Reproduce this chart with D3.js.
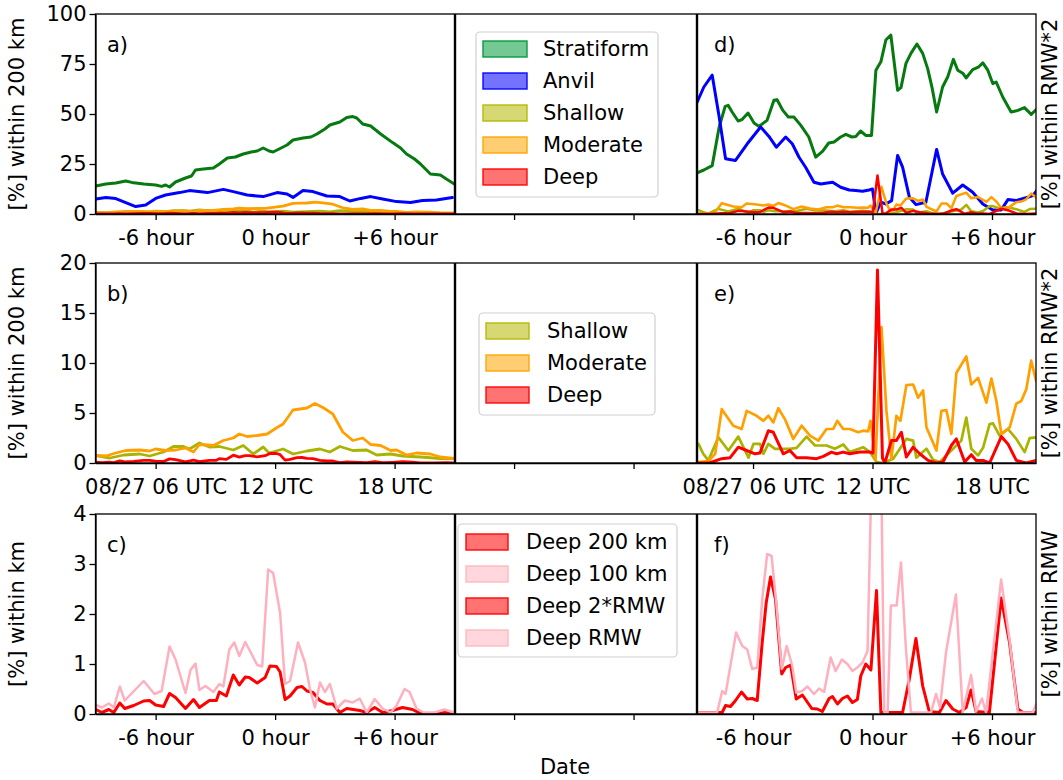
<!DOCTYPE html>
<html>
<head>
<meta charset="utf-8">
<script src="https://cdn.jsdelivr.net/npm/d3@7"></script>
<style>
  html, body { margin: 0; padding: 0; background: #fff; }
  svg { display: block; font-family: "DejaVu Sans", sans-serif; }
</style>
</head>
<body>
<svg id="chart" width="1063" height="780"></svg>
<script>
// ---------------- DATA ----------------
// x-axis tick positions (hours on one continuous axis; right panels are offset by 30 h)
const hourTicks = [-6, 0, 6, 12, 18, 24, 30, 36];
const hourLabels = ["-6 hour", "0 hour", "+6 hour", "", "", "-6 hour", "0 hour", "+6 hour"];
const utcLabels = ["08/27 06 UTC", "12 UTC", "18 UTC", "", "", "08/27 06 UTC", "12 UTC", "18 UTC"];
const yTicksTop = [0, 25, 50, 75, 100];
const yTicksMid = [0, 5, 10, 15, 20];
const yTicksBot = [0, 1, 2, 3, 4];
const rightOffset = 30;

// panel a/b/c : within 200 km / 100 km  ([hour, %])
const stratiform200 = [[-9,14],[-8.5,15],[-8,15.5],[-7.5,16.5],[-7.2,15.8],[-6.6,15],[-6,14.5],[-5.7,13.8],[-5.5,14.5],[-5.3,13.5],[-5,16],[-4.5,18],[-4.2,19],[-4,22],[-3.6,22.5],[-3.1,23],[-2.8,25],[-2.4,28],[-2,28.5],[-1.6,30],[-1.2,31],[-0.9,31.5],[-0.6,33],[-0.3,31.5],[-0.1,31],[0.3,33],[0.6,34.5],[0.9,37],[1.4,38],[1.8,38.5],[2.1,40],[2.5,42.5],[2.75,44.5],[3.25,46],[3.6,48.3],[3.9,48.7],[4.1,48],[4.4,45],[4.8,44],[5.3,40],[5.9,35.7],[6.3,33],[6.6,30],[7,27.5],[7.3,25],[7.8,20],[8.3,19.5],[8.6,17.5],[9,15]];
const anvil200 = [[-9,7.5],[-8.5,8.3],[-8,7.7],[-7.5,5.7],[-7,3.7],[-6.5,4.5],[-6,7.8],[-5.5,9.5],[-4.8,10.7],[-4.3,11.7],[-3.4,10.7],[-2.6,12.3],[-2.1,11.2],[-1.4,9.5],[-0.6,8.7],[0.1,10.7],[0.6,10],[0.9,8.3],[1.4,11.7],[1.9,11.2],[2.6,9],[3.25,8.7],[3.75,6.5],[4.3,7.8],[4.8,8.7],[5.4,7.5],[6.1,6.2],[6.8,5.8],[7.4,6.7],[8.1,7],[8.9,8.2]];
const shallow200 = [[-9,0.75],[-8.3,0.5],[-7.6,0.8],[-6.8,0.9],[-6.3,0.7],[-5.6,1.1],[-5.1,1.65],[-4.6,1.65],[-4.3,1.4],[-3.8,2],[-3.3,1.6],[-2.8,1.65],[-2.1,1.3],[-1.6,1.75],[-1.1,0.9],[-0.6,1.6],[-0.3,1],[0.4,1.4],[0.9,0.9],[1.6,1.2],[2.25,1.4],[2.75,1.1],[3.25,1.65],[3.9,1.25],[4.6,1.3],[5.1,0.8],[5.8,0.9],[6.4,0.7],[7.3,0.6],[8.3,0.45],[9,0.45]];
const moderate200 = [[-9,0.75],[-8.5,0.7],[-8,1],[-7.5,1.25],[-6.8,1.3],[-6.3,1.2],[-6,1.4],[-5.5,1.25],[-5,1.3],[-4.5,1.5],[-4.1,1.1],[-3.8,1.85],[-3.1,1.75],[-2.6,2.25],[-2.1,2.5],[-1.8,2.9],[-1.4,2.65],[-0.9,2.75],[-0.4,2.9],[0.1,3.55],[0.4,3.9],[0.9,5.3],[1.25,5.4],[1.6,5.5],[2,5.95],[2.4,5.55],[2.9,4.9],[3.4,3.1],[3.9,2.25],[4.4,2.5],[4.8,1.85],[5.3,1.75],[5.8,1.25],[6.1,1.3],[6.6,0.8],[7.1,1],[7.8,0.9],[8.3,0.6],[9,0.45]];
const deep200 = [[-9,0.09],[-8.7,0.03],[-8.35,0.09],[-8.1,0.03],[-7.8,0.22],[-7.55,0.11],[-7.1,0.17],[-6.6,0.26],[-6.3,0.27],[-6,0.18],[-5.6,0.15],[-5.3,0.41],[-5,0.33],[-4.5,0.11],[-4.1,0.29],[-3.8,0.13],[-3.3,0.27],[-2.95,0.27],[-2.8,0.44],[-2.45,0.36],[-2.1,0.78],[-1.8,0.58],[-1.5,0.74],[-1.3,0.73],[-0.9,0.62],[-0.5,0.73],[-0.26,0.96],[0.07,0.95],[0.25,0.84],[0.5,0.29],[0.75,0.36],[1.1,0.53],[1.35,0.55],[1.6,0.46],[1.9,0.43],[2.25,0.27],[2.6,0.2],[2.9,0.2],[3.25,0.03],[3.6,0.11],[4.25,0.07],[4.6,0.03],[5,0.13],[5.4,0.03],[5.9,0.07],[6.4,0.13],[6.9,0.09],[7.3,0.01],[8,0.01],[8.6,0.03],[9,0.01]];
const deep100 = [[-9,0.18],[-8.7,0.13],[-8.35,0.21],[-8.1,0.13],[-7.8,0.55],[-7.55,0.27],[-6.6,0.66],[-6.06,0.4],[-5.7,0.46],[-5.3,1.35],[-5,1.09],[-4.5,0.42],[-4.25,0.88],[-4,1.01],[-3.8,0.48],[-3.5,0.56],[-3.1,0.44],[-2.8,0.6],[-2.6,0.55],[-2.3,1.29],[-2.05,1.43],[-1.8,1.16],[-1.5,1.44],[-1.3,1.29],[-0.9,0.98],[-0.65,0.95],[-0.35,2.89],[-0.1,2.82],[0.25,2.02],[0.5,0.6],[0.75,0.66],[1.15,1.43],[1.5,1.03],[1.75,0.5],[2,0.13],[2.25,0.63],[2.5,0.44],[2.75,0.6],[3.1,0.11],[3.5,0.27],[3.9,0.23],[4.25,0.31],[4.6,0.03],[5,0.3],[5.4,0.11],[5.8,0.03],[6.1,0.17],[6.5,0.5],[6.75,0.44],[7.1,0.11],[7.45,0.03],[8,0.03],[8.5,0.09],[9,0.03]];

// panel d/e : within RMW*2 ([hour relative to 0 hour, %])
const stratiformRMW2 = [[-8.86,20.4],[-8.47,22],[-8.05,24.2],[-7.7,43.5],[-7.4,53.8],[-7.25,54.3],[-7.05,51],[-6.75,46.5],[-6.55,47.2],[-6.25,50.5],[-5.95,45.5],[-5.7,43.8],[-5.3,46.8],[-4.95,56.9],[-4.8,57.2],[-4.5,51.8],[-4.23,48.5],[-3.95,48.5],[-3.6,44.3],[-3.2,38.5],[-2.85,28.4],[-2.5,31.4],[-2.2,35.5],[-1.93,36],[-1.6,38.5],[-1.34,39.8],[-1.04,38.5],[-0.84,38.8],[-0.6,41.5],[-0.34,39.3],[-0.05,39.3],[0.17,71.9],[0.42,76.1],[0.67,87],[0.92,89.5],[1.26,61.9],[1.43,63.2],[1.68,75.3],[1.93,80.3],[2.23,85],[2.52,80.3],[2.77,72.7],[2.99,63.2],[3.22,51],[3.52,63.5],[3.78,68.6],[4.06,77.3],[4.28,71.9],[4.55,70.2],[4.7,68],[5.03,72.2],[5.34,73.6],[5.54,75.6],[5.79,71.9],[6.04,65.2],[6.21,66],[6.54,58.5],[6.96,51],[7.3,51.8],[7.63,53.2],[7.97,49.8],[8.27,52.7]];
const anvilRMW2 = [[-8.86,54.8],[-8.47,63.5],[-8.05,69.4],[-7.7,48.5],[-7.38,27.6],[-6.88,26.8],[-6.29,35.1],[-5.62,43.5],[-5.2,38.8],[-4.83,33.4],[-4.36,38.5],[-4.03,35.1],[-3.69,28.4],[-3.36,23.4],[-2.94,15.9],[-2.6,15],[-2.35,15.4],[-2,15.9],[-1.6,13.4],[-1.17,12],[-0.84,11.7],[-0.5,11.4],[-0.17,12],[0,12.5],[0.17,0.3],[0.42,5.9],[0.67,5],[0.96,6.7],[1.26,29.3],[1.51,23.4],[1.85,8.4],[2.18,4.7],[2.68,5.9],[3.22,32.3],[3.52,20],[4.03,10.4],[4.53,14.5],[5.03,10.9],[5.54,5],[6.04,2],[6.46,2],[6.8,7.2],[7.21,6.7],[7.8,8.4],[8.05,9.2],[8.27,12]];
const shallowRMW2 = [[-8.74,1.91],[-8.5,0.92],[-8.24,0.26],[-7.74,2.57],[-7.24,1.25],[-6.74,2.64],[-6.23,0.53],[-5.98,1.91],[-5.65,1.91],[-5.48,0.92],[-5.23,1.91],[-4.9,1.42],[-4.15,1.42],[-3.81,1.52],[-3.31,2.64],[-2.89,1.75],[-2.31,1.75],[-1.89,1.42],[-1.47,1.85],[-1.14,1.09],[-0.47,1.58],[-0.13,1.09],[0.2,0.1],[0.53,0],[1.04,0.43],[1.7,2.41],[2.04,2.24],[2.2,0.53],[2.71,1.42],[3.04,0.33],[3.38,0.1],[3.79,0.92],[4.46,2.24],[4.71,4.55],[4.96,1.42],[5.3,0.76],[5.55,1.52],[5.88,3.89],[6.05,3.96],[6.38,2.74],[6.8,3.4],[7.22,2.41],[7.64,1.09],[7.89,2.48],[8.22,2.57]];
const moderateRMW2 = [[-8.74,0.1],[-8.24,0.2],[-7.9,0.92],[-7.57,5.38],[-6.99,3.73],[-6.57,3.4],[-6.32,5.21],[-5.82,4.72],[-5.48,4.22],[-5.23,4.72],[-4.98,4.06],[-4.73,5.48],[-4.4,4.39],[-3.98,2.41],[-3.56,3.73],[-3.14,2.74],[-2.72,2.24],[-2.31,3.4],[-1.97,3.4],[-1.77,4.22],[-1.47,3.4],[-1.14,3.4],[-0.72,3.07],[-0.47,3.23],[-0.22,3.17],[-0.1,4.22],[0.15,0.3],[0.45,13.6],[0.7,5.21],[0.95,0.43],[1.2,4.72],[1.4,4.22],[1.7,7.79],[2.04,7.85],[2.29,6.53],[2.54,7.26],[2.71,3.56],[3.21,1.25],[3.46,5.21],[3.71,5.28],[3.96,2.9],[4.21,9],[4.71,10.66],[4.96,7.85],[5.3,8.51],[5.72,6.04],[5.97,8.45],[6.22,6.2],[6.47,2.9],[6.89,3.56],[7.22,5.94],[7.47,6.2],[7.72,7.36],[7.97,10.23],[8.22,8.18]];
const deepRMW2 = [[-8.74,0],[-8.2,0],[-7.57,0.43],[-7.15,0.53],[-6.74,1.58],[-6.32,1.25],[-5.9,0.92],[-5.65,1],[-5.23,3.23],[-4.98,3.07],[-4.48,0.92],[-4.15,1.25],[-3.81,0.53],[-3.31,0.53],[-2.81,0.43],[-2.47,0.66],[-2.06,1.09],[-1.8,0.92],[-1.47,1.09],[-1.14,0.92],[-0.64,1.09],[-0.13,1.09],[0.02,1],[0.25,19.3],[0.5,0.5],[0.62,0],[0.95,2.24],[1.2,2.24],[1.45,3.07],[1.7,0.6],[2.04,1.58],[2.37,0.92],[2.79,0.26],[3.21,0],[3.54,0.1],[3.96,1.75],[4.21,2.41],[4.63,0.1],[4.96,0.83],[5.21,0.26],[5.55,0.26],[5.88,0],[6.47,2.64],[6.8,1.91],[7.22,0.26],[7.72,0],[8.22,0.26]];

// panel f : within RMW*2 / RMW
const deep2RMW = [[-8.86,0.03],[-7.55,0.03],[-7.38,0.17],[-7.13,0.15],[-6.88,0.27],[-6.58,0.44],[-6.29,0.3],[-6.04,0.31],[-5.79,0.27],[-5.54,1.43],[-5.34,2.22],[-5.12,2.74],[-4.87,2.29],[-4.56,0.8],[-4.36,0.93],[-4.11,0.98],[-3.83,0.3],[-3.52,0.38],[-3.05,0.11],[-2.77,0.1],[-2.52,0.05],[-2.18,0.31],[-2.01,0.35],[-1.76,0.2],[-1.51,0.31],[-1.26,0.36],[-1.01,0.23],[-0.76,0.29],[-0.59,0.76],[-0.34,1],[-0.08,0.88],[0.2,2.47],[0.42,0.03],[0.67,0.03],[1.51,0.03],[1.85,0.7],[2.18,1.51],[2.52,0.56],[2.85,0.05],[3.36,0.03],[3.69,0.27],[4.03,0.1],[4.36,0.03],[4.7,0.13],[4.95,0.48],[5.2,0.05],[5.87,0.03],[6.46,2.32],[6.88,1.43],[7.3,0.1],[7.55,0.03],[8.27,0.03]];
const deepRMW = [[-8.86,0.03],[-7.8,0.03],[-7.55,0.46],[-7.38,0.4],[-6.85,1.63],[-6.54,1.36],[-6.29,1.29],[-6.04,0.9],[-5.79,0.93],[-5.54,2.29],[-5.29,3.2],[-5.07,3.16],[-4.83,2.22],[-4.56,0.9],[-4.31,1.36],[-4.03,0.96],[-3.83,0.43],[-3.52,0.46],[-3.27,0.55],[-2.94,0.4],[-2.68,0.51],[-2.43,0.44],[-2.1,1.13],[-1.85,0.86],[-1.54,1.09],[-1.26,1],[-1.01,0.86],[-0.76,0.93],[-0.5,1.03],[-0.25,1.26],[0.02,6],[0.4,6],[0.59,0.03],[0.76,0.03],[0.92,2.17],[1.21,2.17],[1.43,3.03],[1.68,1.29],[1.93,0.03],[2.94,0.03],[3.19,0.4],[3.39,0.13],[3.69,1.23],[4.19,2.39],[4.53,0.03],[4.95,0.78],[5.2,0.05],[5.5,0.31],[5.7,0.03],[6.46,2.69],[6.88,1.49],[7.3,0.03],[8.05,0.03],[8.27,0.25]];

// legend entries
const legendTop = ["Stratiform", "Anvil", "Shallow", "Moderate", "Deep"];
const legendMid = ["Shallow", "Moderate", "Deep"];
const legendBot = ["Deep 200 km", "Deep 100 km", "Deep 2*RMW", "Deep RMW"];

// ---------------- STYLE / LAYOUT ----------------
const COL = {
  Stratiform: "#067a10", Anvil: "#0000ff", Shallow: "#a8b400", Moderate: "#ffa000", Deep: "#ff0000", Pink: "#ffb0bf"
};
const PATCH = {
  "Stratiform": "#009a3a", "Anvil": "#0000ff", "Shallow": "#b4b800", "Moderate": "#ffa500", "Deep": "#ff0000",
  "Deep 200 km": "#ff0000", "Deep 100 km": "#ffb6c1", "Deep 2*RMW": "#ff0000", "Deep RMW": "#ffb6c1"
};
const FONT = 21;
const L = 95.5, R = 1036, midL = 455, midR = 697;

const svg = d3.select("#chart");
const x = d3.scaleLinear().domain([-9.02, 38.21]).range([L, R]);

const rows = [
  { top: 14, bottom: 214, yMax: 100, yTicks: yTicksTop, xLabels: hourLabels,
    leftLabel: "[%] within 200 km", rightLabel: "[%] within RMW*2", tags: ["a)", "d)"],
    left: [[stratiform200, COL.Stratiform, 3], [anvil200, COL.Anvil, 3], [shallow200, COL.Shallow, 2.8], [moderate200, COL.Moderate, 2.8], [deep200, COL.Deep, 2.8]],
    right: [[stratiformRMW2, COL.Stratiform, 3], [anvilRMW2, COL.Anvil, 3], [shallowRMW2, COL.Shallow, 2.5], [moderateRMW2, COL.Moderate, 2.5], [deepRMW2, COL.Deep, 2.5]],
    legend: { names: legendTop, box: [476, 32, 182, 165], patchX: 483, patchW: 44, textX: 543, y0: 49 } },
  { top: 263, bottom: 463, yMax: 20, yTicks: yTicksMid, xLabels: utcLabels,
    leftLabel: "[%] within 200 km", rightLabel: "[%] within RMW*2", tags: ["b)", "e)"],
    left: [[shallow200, COL.Shallow, 2.8], [moderate200, COL.Moderate, 2.8], [deep200, COL.Deep, 2.8]],
    right: [[shallowRMW2, COL.Shallow, 2.7], [moderateRMW2, COL.Moderate, 2.7], [deepRMW2, COL.Deep, 3]],
    legend: { names: legendMid, box: [479, 313, 176, 102], patchX: 486, patchW: 43, textX: 547, y0: 331 } },
  { top: 514, bottom: 714, yMax: 4, yTicks: yTicksBot, xLabels: hourLabels,
    leftLabel: "[%] within km", rightLabel: "[%] within RMW", tags: ["c)", "f)"],
    left: [[deep200, COL.Deep, 3], [deep100, COL.Pink, 2.5]],
    right: [[deep2RMW, COL.Deep, 3], [deepRMW, COL.Pink, 2.5]],
    legend: { names: legendBot, box: [458, 524, 219, 133], patchX: 466, patchW: 42, textX: 526, y0: 542 } }
];

const defs = svg.append("defs");

rows.forEach((row, ri) => {
  const y = d3.scaleLinear().domain([0, row.yMax]).range([row.bottom, row.top]);
  const g = svg.append("g");

  // clip regions
  const clipL = "clipL" + ri, clipR = "clipR" + ri;
  defs.append("clipPath").attr("id", clipL).append("rect")
    .attr("x", L).attr("y", row.top).attr("width", midL - L).attr("height", row.bottom - row.top);
  defs.append("clipPath").attr("id", clipR).append("rect")
    .attr("x", midR).attr("y", row.top).attr("width", R - midR).attr("height", row.bottom - row.top);

  const lineL = d3.line().x(d => x(d[0])).y(d => y(d[1]));
  const lineR = d3.line().x(d => x(d[0] + rightOffset)).y(d => y(d[1]));

  const gl = g.append("g").attr("clip-path", `url(#${clipL})`);
  row.left.forEach(([data, color, w]) => {
    gl.append("path").datum(data).attr("d", lineL).attr("fill", "none")
      .attr("stroke", color).attr("stroke-width", w).attr("stroke-linejoin", "round").attr("stroke-linecap", "round");
  });
  const gr = g.append("g").attr("clip-path", `url(#${clipR})`);
  row.right.forEach(([data, color, w]) => {
    gr.append("path").datum(data).attr("d", lineR).attr("fill", "none")
      .attr("stroke", color).attr("stroke-width", w).attr("stroke-linejoin", "round").attr("stroke-linecap", "round");
  });

  // axes
  const yAxis = d3.axisLeft(y).tickValues(row.yTicks).tickFormat(d3.format("d"))
    .tickSize(6).tickSizeOuter(0).tickPadding(3);
  const ga = g.append("g").attr("transform", `translate(${L},0)`).call(yAxis);
  const xAxis = d3.axisBottom(x).tickValues(hourTicks).tickFormat((d, i) => row.xLabels[i])
    .tickSize(6).tickSizeOuter(0).tickPadding(10);
  const gb = g.append("g").attr("transform", `translate(0,${row.bottom})`).call(xAxis);
  [ga, gb].forEach(a => {
    a.selectAll("text").attr("font-size", FONT).attr("font-family", "DejaVu Sans").attr("fill", "#000");
    a.selectAll("line").attr("stroke", "#000").attr("stroke-width", 1.3);
    a.select(".domain").attr("stroke", "#000").attr("stroke-width", 1.3);
  });

  // frame
  g.append("rect").attr("x", L).attr("y", row.top).attr("width", R - L).attr("height", row.bottom - row.top)
    .attr("fill", "none").attr("stroke", "#000").attr("stroke-width", 1.3);
  // middle separators
  [midL, midR].forEach(xx => {
    g.append("line").attr("x1", xx).attr("x2", xx).attr("y1", row.top).attr("y2", row.bottom)
      .attr("stroke", "#000").attr("stroke-width", 2.4);
  });

  // panel tags
  g.append("text").attr("x", 107).attr("y", row.top + 38).attr("font-size", FONT).text(row.tags[0]);
  g.append("text").attr("x", 714).attr("y", row.top + 38).attr("font-size", FONT).text(row.tags[1]);

  // axis labels
  const cy = (row.top + row.bottom) / 2;
  g.append("text").attr("transform", `translate(17,${cy}) rotate(-90)`).attr("text-anchor", "middle")
    .attr("dy", "0.35em").attr("font-size", FONT).text(row.leftLabel);
  g.append("text").attr("transform", `translate(1050,${cy}) rotate(-90)`).attr("text-anchor", "middle")
    .attr("dy", "0.35em").attr("font-size", FONT).text(row.rightLabel);

  // legend
  const lg = row.legend;
  g.append("rect").attr("x", lg.box[0]).attr("y", lg.box[1]).attr("width", lg.box[2]).attr("height", lg.box[3])
    .attr("rx", 4).attr("fill", "#fff").attr("fill-opacity", 0.8).attr("stroke", "#d0d0d0").attr("stroke-width", 1.2);
  lg.names.forEach((name, i) => {
    const yy = lg.y0 + i * 32;
    const c = PATCH[name];
    g.append("rect").attr("x", lg.patchX).attr("y", yy - 8).attr("width", lg.patchW).attr("height", 16)
      .attr("fill", c).attr("fill-opacity", 0.55).attr("stroke", c).attr("stroke-opacity", 0.9).attr("stroke-width", 1.5);
    g.append("text").attr("x", lg.textX).attr("y", yy).attr("dy", "0.35em").attr("font-size", FONT).text(name);
  });
});

svg.append("text").attr("x", 565).attr("y", 774).attr("text-anchor", "middle").attr("font-size", FONT).text("Date");
</script>
</body>
</html>
